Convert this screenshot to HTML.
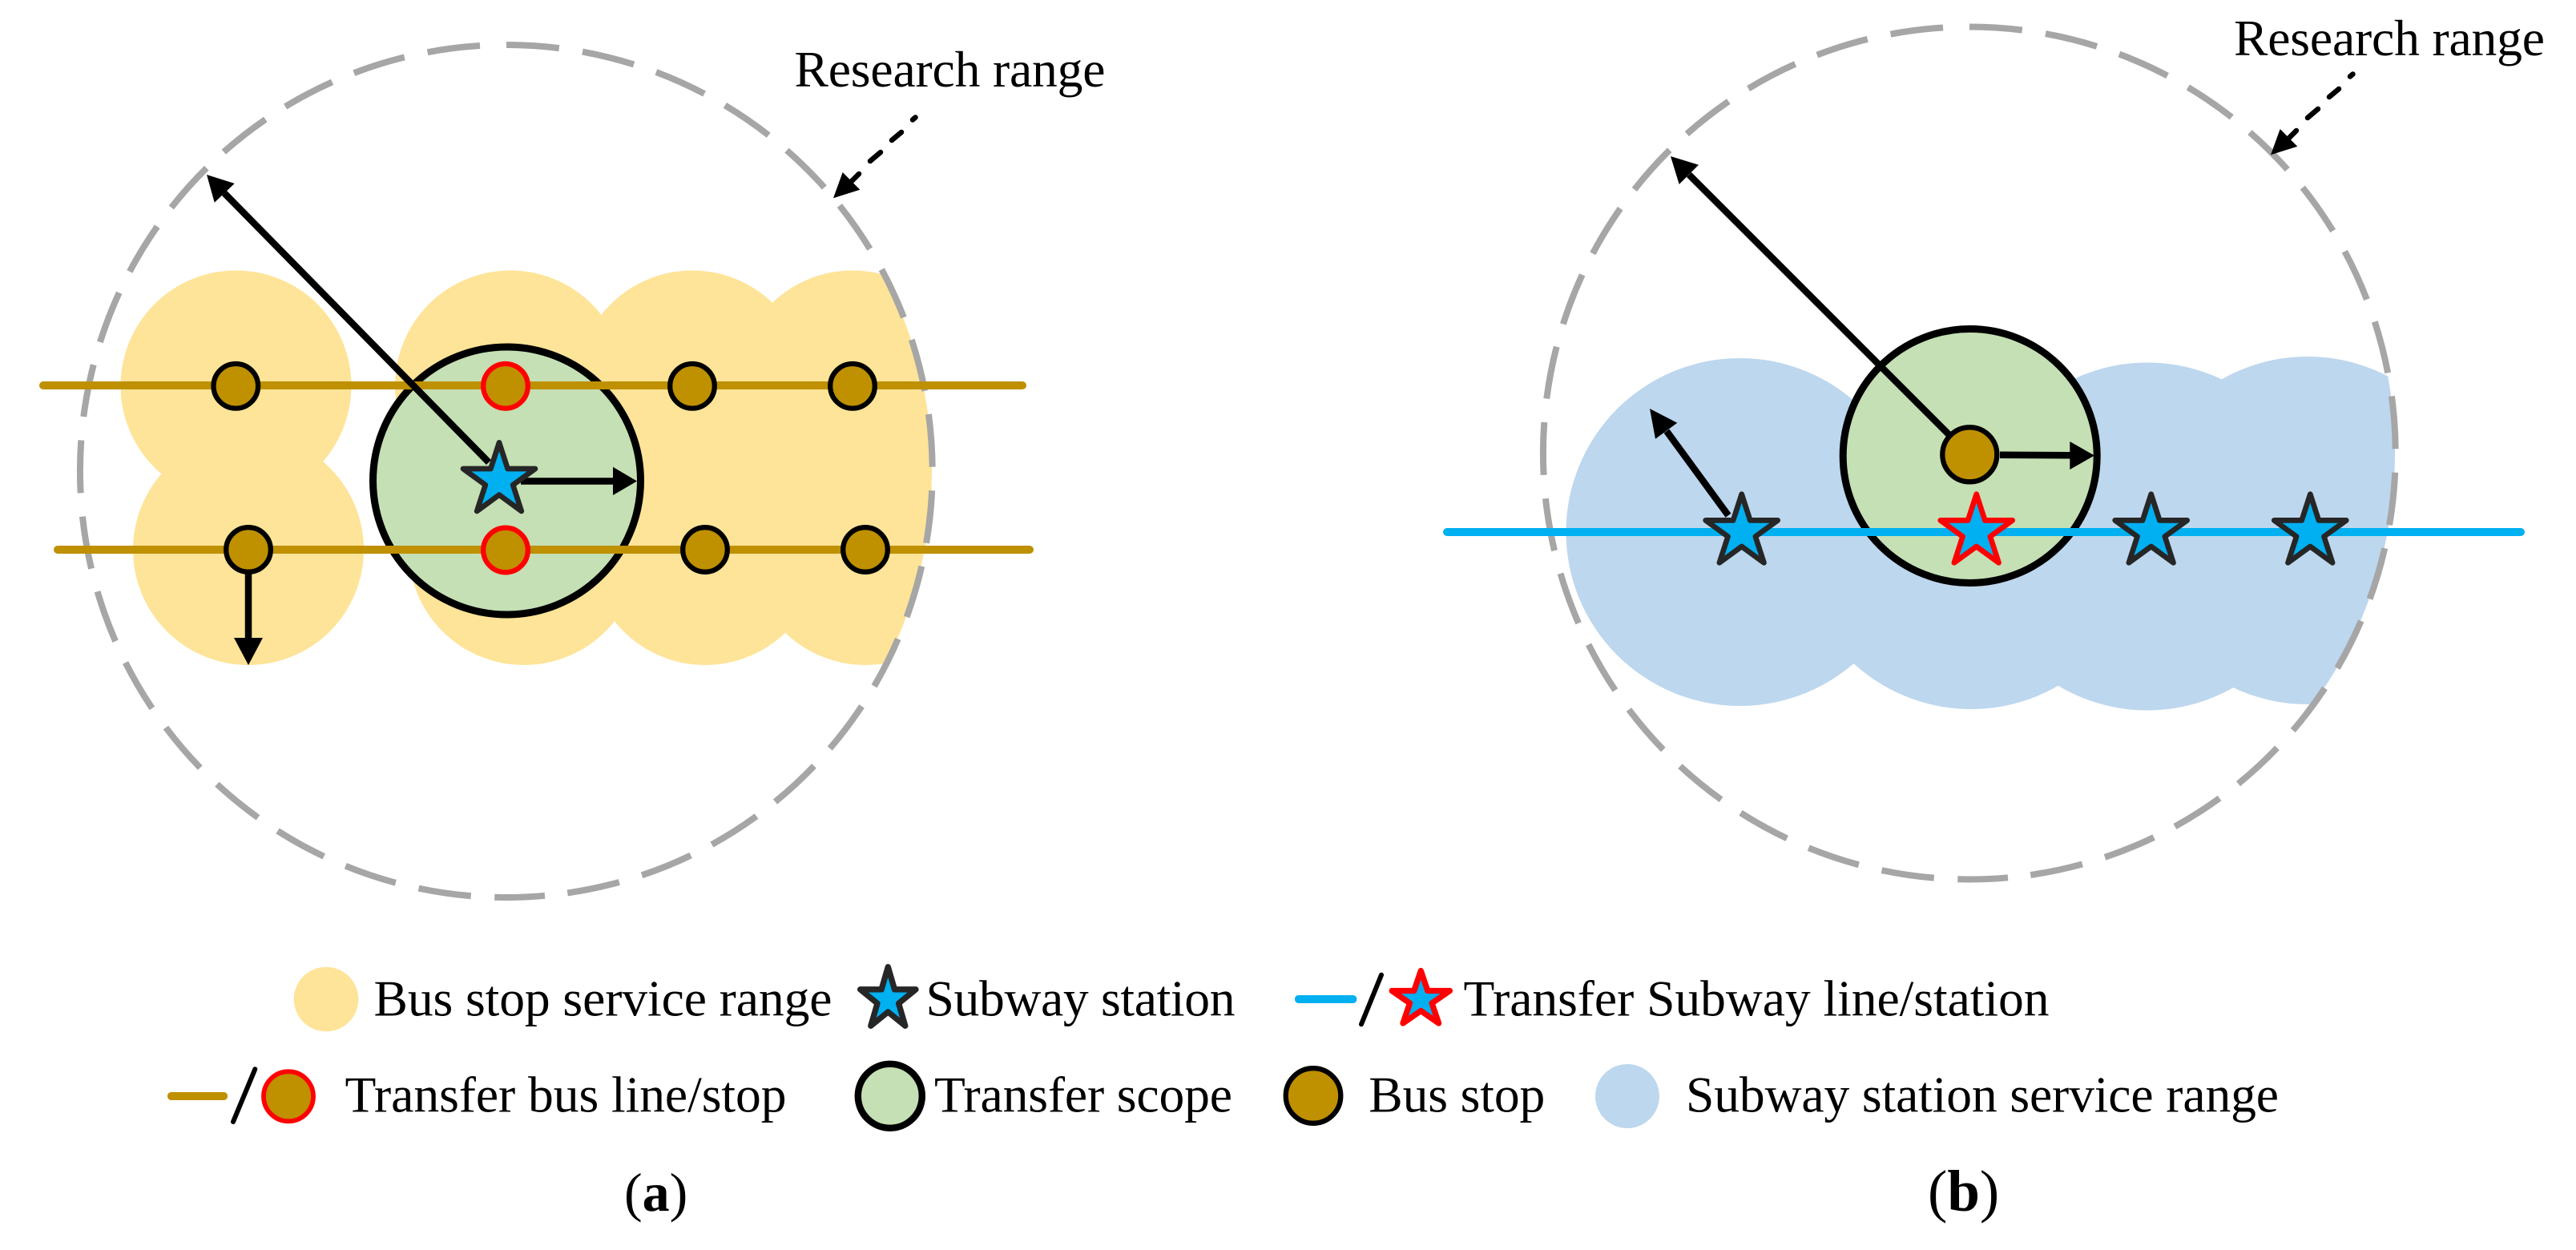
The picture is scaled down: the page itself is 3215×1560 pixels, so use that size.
<!DOCTYPE html>
<html><head><meta charset="utf-8"><style>
html,body{margin:0;padding:0;background:#fff;width:3215px;height:1560px;overflow:hidden}
svg{display:block}
text{font-family:"Liberation Serif",serif;font-size:63.6px;fill:#000}
</style></head><body>
<svg width="3215" height="1560" viewBox="0 0 3215 1560" xmlns="http://www.w3.org/2000/svg">
<defs>
<clipPath id="ca"><circle cx="632" cy="588" r="531"/></clipPath>
<clipPath id="cb"><circle cx="2458" cy="565.5" r="531"/></clipPath>
<polygon id="st" stroke-width="6.7" stroke-linejoin="round" points="0,-47.3 10.6,-14.6 45,-14.6 17.2,5.6 27.8,38.3 0,18 -27.8,38.3 -17.2,5.6 -45,-14.6 -10.6,-14.6"/>
<g id="dashc" fill="none" stroke="#A6A6A6" stroke-width="8">
<path d="M632,56 A532,532 0 0 1 703,1115.2" stroke-dasharray="66 29.5"/>
<path d="M627,56 A532,532 0 1 0 680,1117.8" stroke-dasharray="66 29.5" stroke-dashoffset="-28"/>
</g>
<g id="resarrow">
<g stroke="#000" stroke-width="6.5" stroke-linecap="round">
<line x1="1060" y1="229" x2="1072" y2="217"/>
<line x1="1086" y1="201" x2="1099" y2="190"/>
<line x1="1113" y1="175" x2="1125" y2="165"/>
<line x1="1139" y1="149.5" x2="1142.5" y2="146.5"/>
</g>
<polygon points="1040,247.3 1051.7,215 1073.3,236.7" fill="#000"/>
</g>
</defs>

<!-- panel a -->
<g clip-path="url(#ca)" fill="#FEE498">
<circle cx="294.5" cy="481.5" r="144"/><circle cx="637" cy="481.5" r="144"/><circle cx="864" cy="481.5" r="144"/><circle cx="1064" cy="481.5" r="144"/>
<circle cx="310" cy="686" r="144"/><circle cx="654" cy="686" r="144"/><circle cx="880" cy="686" r="144"/><circle cx="1080" cy="686" r="144"/>
</g>
<use href="#dashc"/>
<circle cx="632.5" cy="600" r="167" fill="#C5E0B4" stroke="#000" stroke-width="9"/>
<line x1="54" y1="481" x2="1276" y2="481" stroke="#BF9000" stroke-width="10" stroke-linecap="round"/>
<line x1="72" y1="686" x2="1285" y2="686" stroke="#BF9000" stroke-width="10" stroke-linecap="round"/>
<g fill="#BF9000" stroke="#000" stroke-width="6.3">
<circle cx="294.3" cy="481.8" r="27.8"/><circle cx="864" cy="481.8" r="27.8"/><circle cx="1064" cy="481.8" r="27.8"/>
<circle cx="310" cy="686" r="27.8"/><circle cx="880" cy="686" r="27.8"/><circle cx="1080" cy="686" r="27.8"/>
<circle cx="631" cy="481.8" r="27.8" stroke="#f00"/><circle cx="631" cy="686.5" r="27.8" stroke="#f00"/>
</g>
<g stroke="#000" stroke-width="8.5" fill="none">
<line x1="610" y1="577" x2="280" y2="241"/>
<line x1="650" y1="600.5" x2="766" y2="600.5"/>
<line x1="310" y1="712" x2="310" y2="798"/>
</g>
<g fill="#000">
<polygon points="258,218 267.7,252.7 292.7,229"/>
<polygon points="765,582.7 795,600.5 765,618"/>
<polygon points="292,796 310,830 328,796"/>
</g>
<use href="#resarrow"/>
<use href="#st" x="623" y="599.6" fill="#00B0F0" stroke="#262626"/>
<text x="991.5" y="108" textLength="388">Research range</text>

<!-- panel b -->
<g clip-path="url(#cb)" fill="#BDD7EE">
<circle cx="2171.5" cy="664" r="217"/><circle cx="2460" cy="668" r="217"/><circle cx="2680" cy="669.5" r="217"/><circle cx="2880" cy="662" r="217"/>
</g>
<use href="#dashc" transform="translate(1826 -22.5)"/>
<circle cx="2458.7" cy="569" r="158.5" fill="#C5E0B4" stroke="#000" stroke-width="9"/>
<line x1="1806" y1="664" x2="3146" y2="664" stroke="#00B0F0" stroke-width="10" stroke-linecap="round"/>
<g stroke="#000" stroke-width="8.5" fill="none">
<line x1="2432" y1="542" x2="2108" y2="218"/>
<line x1="2496" y1="567.7" x2="2584" y2="568.3"/>
<line x1="2157" y1="643.3" x2="2080" y2="538"/>
</g>
<g fill="#000">
<polygon points="2085,195 2095.7,230 2120,205.7"/>
<polygon points="2583.3,551 2614,568.5 2583.3,586"/>
<polygon points="2059,510 2066,547.7 2093.3,527.7"/>
</g>
<use href="#resarrow" transform="translate(1794 -54)"/>
<circle cx="2458.3" cy="567.3" r="34" fill="#BF9000" stroke="#000" stroke-width="6.3"/>
<use href="#st" x="2173.7" y="664" fill="#00B0F0" stroke="#262626"/>
<use href="#st" x="2466.7" y="664" fill="#00B0F0" stroke="#f00"/>
<use href="#st" x="2684.7" y="664" fill="#00B0F0" stroke="#262626"/>
<use href="#st" x="2883.3" y="664" fill="#00B0F0" stroke="#262626"/>
<text x="2788" y="69" textLength="388">Research range</text>

<!-- legend -->
<circle cx="407" cy="1247" r="40.3" fill="#FEE498"/>
<text x="466.5" y="1267.5" textLength="572">Bus stop service range</text>
<polygon transform="translate(1108.3 1247.4)" fill="#00B0F0" stroke="#262626" stroke-width="7.3" stroke-linejoin="round" points="0,-40.7 8.2,-12.6 34.7,-12.6 13.3,4.8 21.5,32.9 0,15.5 -21.5,32.9 -13.3,4.8 -34.7,-12.6 -8.2,-12.6"/>
<text x="1155.5" y="1267.5" textLength="386">Subway station</text>
<rect x="1616" y="1242" width="77.3" height="10" rx="4.5" fill="#00B0F0"/>
<line x1="1724" y1="1216.7" x2="1699" y2="1278.3" stroke="#000" stroke-width="6" stroke-linecap="round"/>
<polygon transform="translate(1773.3 1247.7)" fill="#00B0F0" stroke="#f00" stroke-width="7.3" stroke-linejoin="round" points="0,-36.2 8.5,-11.2 36.1,-11.2 13.8,4.3 22.3,29.3 0,13.8 -22.3,29.3 -13.8,4.3 -36.1,-11.2 -8.5,-11.2"/>
<text x="1826.5" y="1267.5" textLength="731">Transfer Subway line/station</text>

<rect x="209" y="1363" width="75" height="10" rx="4.5" fill="#BF9000"/>
<line x1="318.3" y1="1334.3" x2="291" y2="1400" stroke="#000" stroke-width="6" stroke-linecap="round"/>
<circle cx="360" cy="1368.3" r="31" fill="#BF9000" stroke="#f00" stroke-width="5.8"/>
<text x="430.5" y="1387.7" textLength="551">Transfer bus line/stop</text>
<circle cx="1110.8" cy="1367.8" r="40" fill="#C5E0B4" stroke="#000" stroke-width="8.4"/>
<text x="1166" y="1387.7" textLength="372">Transfer scope</text>
<circle cx="1639" cy="1367.5" r="34.3" fill="#BF9000" stroke="#000" stroke-width="6.3"/>
<text x="1708.3" y="1387.7" textLength="220">Bus stop</text>
<circle cx="2031" cy="1368" r="40" fill="#BDD7EE"/>
<text x="2104" y="1387.7" textLength="740">Subway station service range</text>

<text x="779" y="1511" style="font-size:68px">(<tspan font-weight="bold">a</tspan>)</text>
<text x="2406" y="1511" style="font-size:73px">(<tspan font-weight="bold">b</tspan>)</text>
</svg>
</body></html>
